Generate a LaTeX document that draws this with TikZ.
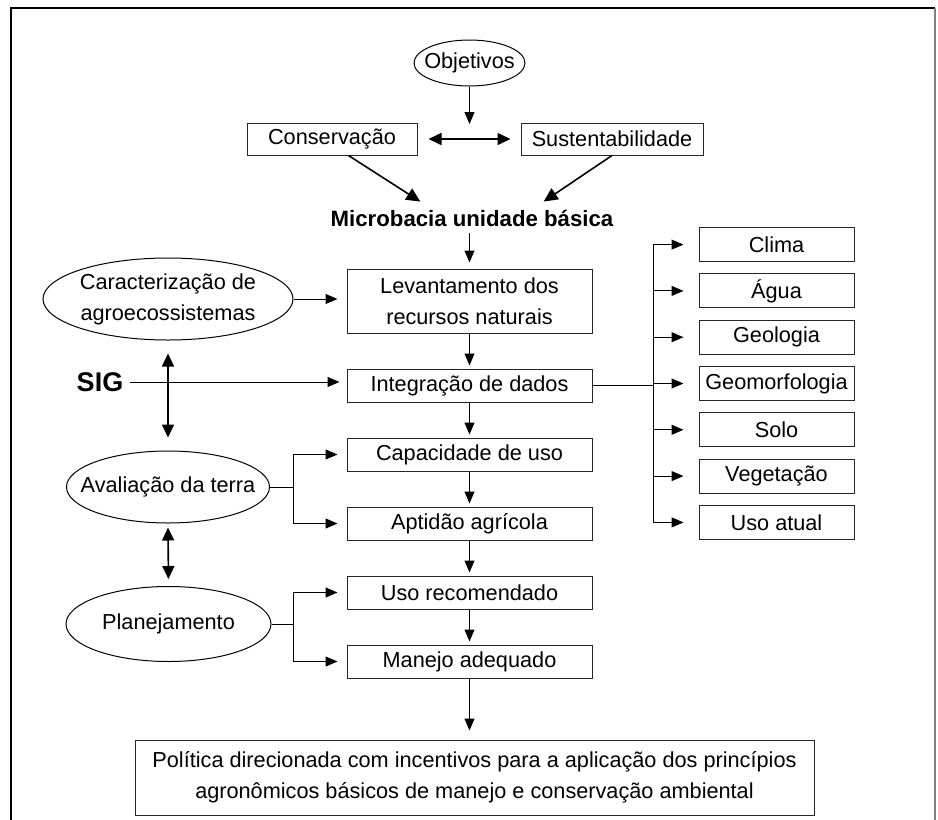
\documentclass[tikz,border=0pt]{standalone}
\usepackage{fontspec}
\setmainfont{Liberation Sans}
\usetikzlibrary{arrows.meta,positioning,shapes.geometric,calc}

\begin{document}
\begin{tikzpicture}[x=0.5pt, y=-0.5pt, node distance=17.5pt,
font=\fontsize{10.85}{15.5}\selectfont,
box/.style={draw=black!85,line width=0.5pt,align=center,minimum width=122.5pt,minimum height=16.5pt,inner sep=0pt},
item/.style={draw=black!85,line width=0.5pt,minimum width=77.5pt,minimum height=17pt,inner sep=0pt},
oval/.style={draw,ellipse,line width=0.5pt,inner sep=0pt},
arr/.style={-{Triangle[length=6pt,width=5pt]},line width=0.5pt,shorten >=1.5pt},
dbl/.style={{Triangle[length=6.5pt,width=6pt]}-{Triangle[length=6.5pt,width=6pt]},line width=0.8pt}]
\useasboundingbox (0,0) rectangle (938,820);
% moldura
\draw[line width=0.7pt] (11,820) -- (11,8) -- (935,8);
\draw[gray,line width=1pt] (935,8) -- (935,820);
% topo
\node[oval,minimum width=55.5pt,minimum height=23pt,label=center:Objetivos] (obj) at (469.5,63) {};
\node[box,minimum width=85pt,minimum height=16pt] (cons) at (332,139) {Conservação};
\node[box,minimum width=91pt,minimum height=16pt] (sust) at (612,139) {Sustentabilidade};
\coordinate (objend) at (469.5,124);
\node[font=\fontsize{11.1}{13}\selectfont\bfseries] (micro) at (472,218) {Microbacia unidade básica};
\draw[arr,shorten >=0pt] (obj) -- (objend);
\draw[dbl,shorten <=5.5pt,shorten >=5pt] (cons) -- (sust);
\draw[arr,-{Triangle[length=7pt,width=6.5pt]},line width=0.8pt,shorten >=1pt] (cons.-45) -- ($(micro.north)+(-50,0)$);
\draw[arr,-{Triangle[length=7pt,width=6.5pt]},line width=0.8pt,shorten >=1pt] (sust.south) -- ($(micro.north)+(70,0)$);
% coluna central
\node[box,minimum height=32pt] (lev) at (469.5,301) {Levantamento dos\\recursos naturais};
\node[box,below=of lev] (integ) {Integração de dados};
\node[box,below=of integ] (cap) {Capacidade de uso};
\node[box,below=of cap] (apt) {Aptidão agrícola};
\node[box,below=of apt] (usorec) {Uso recomendado};
\node[box,below=of usorec] (manejo) {Manejo adequado};
\node[draw=black!85,line width=0.5pt,align=center,minimum width=339.5pt,minimum height=37.5pt,below=30.5pt of manejo,xshift=2.5pt] (pol) {Política direcionada com incentivos para a aplicação dos princípios\\agronômicos básicos de manejo e conservação ambiental};
\draw[arr,shorten >=3pt] (lev.north |- micro.south) -- (lev.north);
\foreach \a/\b in {lev/integ,integ/cap,cap/apt,apt/usorec,usorec/manejo}
  \draw[arr] (\a) -- (\b);
\draw[arr,shorten >=4.5pt] (manejo) -- (manejo.south |- pol.north);
% coluna esquerda
\node[oval,minimum width=125pt,minimum height=41pt,label={[align=center]center:Caracterização de\\agroecossistemas}] (carac) at (168,299) {};
\node[font=\fontsize{13.5}{15}\selectfont\bfseries] (sig) at (100,382) {SIG};
\node[oval,minimum width=101.5pt,minimum height=36pt,label=center:Avaliação da terra] (aval) at (168,487) {};
\node[oval,minimum width=102.5pt,minimum height=37.5pt,label=center:Planejamento] (plan) at (168.5,624) {};
\draw[arr,shorten >=4.5pt] (carac.east) -- (carac.east -| lev.west);
\draw[arr,shorten >=3.5pt] (sig.east) -- (sig.east -| integ.west);
\draw[dbl,shorten <=6.5pt,shorten >=6.5pt] (carac.south) -- (aval.north);
\draw[dbl,shorten <=2pt,shorten >=3.5pt] (aval.south) -- (plan.north);
\draw[arr,shorten >=4.5pt] (aval.east) -- ++(23,0) |- (cap.west);
\draw[arr,shorten >=4.5pt] (aval.east) -- ++(23,0) |- (apt.west);
\draw[arr,shorten >=4.5pt] (plan.east) -- ++(22,0) |- (usorec.west);
\draw[arr,shorten >=4.5pt] (plan.east) -- ++(22,0) |- (manejo.west);
% coluna direita
\node[item,right=53pt of integ,yshift=1pt] (geom) {Geomorfologia};
\node[item,above=5.65pt of geom] (geol) {Geologia};
\node[item,above=5.65pt of geol] (agua) {Água};
\node[item,above=5.65pt of agua] (clima) {Clima};
\node[item,below=5.65pt of geom] (solo) {Solo};
\node[item,below=5.65pt of solo] (veg) {Vegetação};
\node[item,below=5.65pt of veg] (usoat) {Uso atual};
\foreach \b in {clima,agua,geol,geom,solo,veg,usoat}
  \draw[arr,shorten >=7.5pt] (integ.east) -- ++(61,0) |- (\b.west);
\end{tikzpicture}
\end{document}
